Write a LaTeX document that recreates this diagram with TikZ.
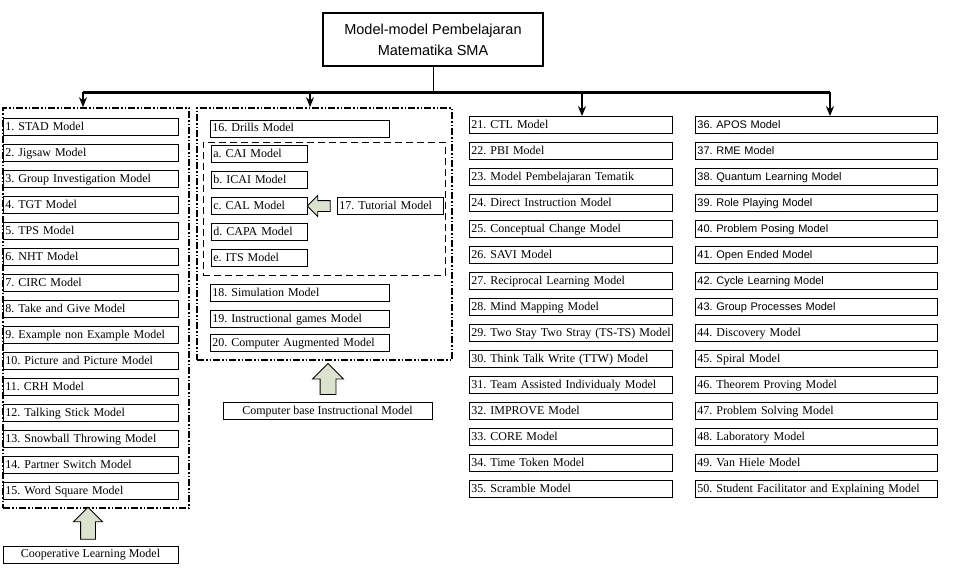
\documentclass[tikz,border=0pt]{standalone}
\usepackage{fontspec}
\setmainfont{Liberation Serif}
\newfontfamily\arialfont{Liberation Sans}
\usetikzlibrary{shapes.arrows,arrows.meta}

\definecolor{arrowfill}{RGB}{221,226,207}

\tikzset{
  titlebox/.style={draw,line width=2pt,minimum width=220pt,minimum height=53pt,align=center,font=\arialfont\fontsize{14.5}{21}\selectfont},
  item/.style={draw,line width=0.8pt,anchor=west,minimum height=17pt,inner xsep=2pt,inner ysep=0pt,text width=#1,text height=8.5pt,text depth=2.5pt,align=left,font=\fontsize{12}{14}\selectfont},
  sansitem/.style={item=#1,font=\arialfont\fontsize{11}{13}\selectfont},
  labelbox/.style={draw,line width=0.8pt,minimum height=17pt,inner sep=0pt,text height=8.5pt,text depth=2.5pt,minimum width=#1,font=\fontsize{12}{14}\selectfont},
  groupbox/.style={draw,line width=1.6pt,dash pattern=on 7pt off 2pt on 1.5pt off 2pt on 1.5pt off 2pt,inner sep=0pt},
  subbox/.style={draw,line width=1pt,dash pattern=on 7pt off 4pt,inner sep=0pt},
  blockarrow/.style={draw,line width=0.8pt,fill=arrowfill,single arrow,single arrow head indent=0pt},
  busarrow/.style={line width=1.5pt,-{Stealth[length=10pt,width=8pt]}}
}

\begin{document}
\frenchspacing
\begin{tikzpicture}[x=1pt,y=-1pt]
\useasboundingbox (0,0) rectangle (954,574);

\node[titlebox] (title) at (433,39.5) {Model-model Pembelajaran\\Matematika SMA};
\coordinate (busL) at (83,92);
\coordinate (busA) at (310,92);
\coordinate (busB) at (582,92);
\coordinate (busR) at (830,92);
\draw[line width=3pt] (busL) -- (busR);
\draw[line width=1pt] (title.south) -- (title.south |- busL);

\node[groupbox,minimum width=186pt,minimum height=400pt] (coopGroup) at (96,308) {};
\node[groupbox,minimum width=255pt,minimum height=252pt] (cbiGroup) at (324.5,234) {};
\node[subbox,minimum width=242pt,minimum height=133pt] (tutorGroup) at (324,208.5) {};

\foreach \txt [count=\i] in {1. STAD Model,2. Jigsaw Model,3. Group Investigation Model,4. TGT Model,5. TPS Model,6. NHT Model,7. CIRC Model,8. Take and Give Model,9. Example non Example Model,10. Picture and Picture Model,11. CRH Model,12. Talking Stick Model,13. Snowball Throwing Model,14. Partner Switch Model,15. Word Square Model}
  \node[item=171pt] (m\i) at (3,101+26*\i) {\mbox{\txt}};

\node[item=175pt] (m16) at (210,128.5) {16. Drills Model};
\foreach \k/\txt [count=\i] in {a/a. CAI Model,b/b. ICAI Model,c/c. CAL Model,d/d. CAPA Model,e/e. ITS Model}
  \node[item=92pt] (m\k) at (211,128+26*\i) {\txt};
\node[item=102pt] (m17) at (337,206) {17. Tutorial Model};
\node[item=175pt] (m18) at (210,293) {18. Simulation Model};
\node[item=175pt] (m19) at (210,319) {19. Instructional games Model};
\node[item=175pt] (m20) at (210,343) {20. Computer Augmented Model};

\foreach \txt [count=\i from 21] in {21. CTL Model,22. PBI Model,23. Model Pembelajaran Tematik,24. Direct Instruction Model,25. Conceptual Change Model,26. SAVI Model,27. Reciprocal Learning Model,28. Mind Mapping Model,29. Two Stay Two Stray (TS-TS) Model,30. Think Talk Write (TTW) Model,31. Team Assisted Individualy Model,32. IMPROVE Model,33. CORE Model,34. Time Token Model,35. Scramble Model}
  \node[item=199pt] (m\i) at (469,-421+26*\i) {\mbox{\txt}};

\foreach \txt [count=\i from 36] in {36. APOS Model,37. RME Model,38. Quantum Learning Model,39. Role Playing Model,40. Problem Posing Model,41. Open Ended Model,42. Cycle Learning Model,43. Group Processes Model}
  \node[sansitem=238pt] (m\i) at (695,-811+26*\i) {\txt};
\foreach \txt [count=\i from 44] in {44. Discovery Model,45. Spiral Model,46. Theorem Proving Model,47. Problem Solving Model,48. Laboratory Model,49. Van Hiele Model,50. Student Facilitator and Explaining Model}
  \node[item=238pt] (m\i) at (695,-811+26*\i) {\txt};

\node[labelbox=175pt] (coopLabel) at (90.5,554.5) {Cooperative Learning Model};
\node[labelbox=209pt] (cbiLabel) at (327.5,411) {Computer base Instructional Model};

\node[blockarrow,shape border rotate=90,inner sep=7pt,minimum height=32pt,single arrow head extend=7pt] (coopArrow) at (88,527) {};
\node[blockarrow,shape border rotate=90,inner sep=7.5pt,minimum height=31pt,single arrow head extend=7.5pt] (cbiArrow) at (328,383) {};
\node[blockarrow,shape border rotate=180,inner sep=5pt,minimum height=23pt,single arrow head extend=5pt] (tutorArrow) at (321.5,206) {};

\draw[busarrow] (busL) -- (busL |- coopGroup.north);
\draw[busarrow] (busA) -- (busA |- cbiGroup.north);
\draw[busarrow] (busB) -- (busB |- m21.north);
\draw[busarrow] (busR) -- (busR |- m36.north);
\end{tikzpicture}
\end{document}
